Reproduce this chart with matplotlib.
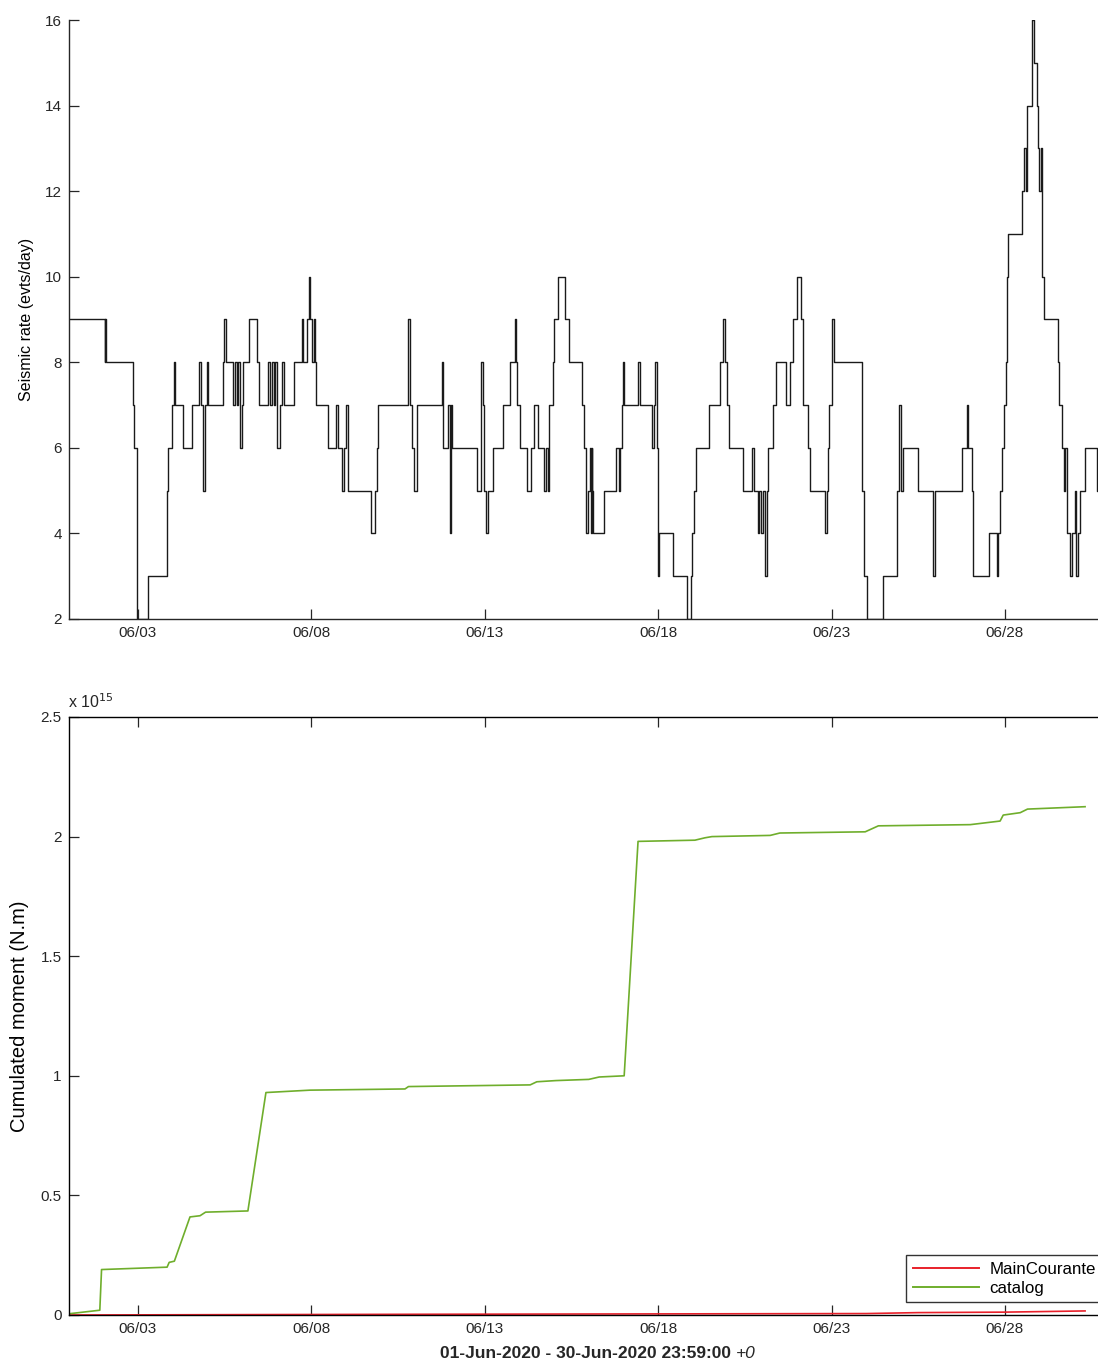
import matplotlib
matplotlib.use("Agg")
import matplotlib.pyplot as plt
import matplotlib.dates as mdates
from matplotlib.ticker import FuncFormatter
from datetime import datetime
import numpy as np

plt.rcParams['font.family'] = ['Liberation Sans', 'DejaVu Sans']

# ---------------- data ----------------
START = datetime(2020, 6, 1)
END = datetime(2020, 7, 1)
TICK_DAYS = [3, 8, 13, 18, 23, 28]

# Seismic rate step series: time (days since 01-Jun-2020) and rate (evts/day)
rate_t = [0.00, 1.05, 1.06, 1.08, 1.85, 1.89, 1.98, 2.28, 2.83, 2.87, 2.98, 3.04, 3.08, 3.31,
          3.57, 3.77, 3.83, 3.88, 3.92, 3.98, 4.03, 4.46, 4.49, 4.55, 4.75, 4.80, 4.85, 4.89,
          4.94, 5.00, 5.03, 5.20, 5.44, 5.49, 5.74, 5.80, 5.86, 5.91, 5.95, 6.00, 6.10, 6.14,
          6.22, 6.49, 6.72, 6.77, 6.87, 6.93, 6.97, 7.03, 7.07, 7.10, 7.14, 7.47, 7.71, 7.76,
          7.87, 7.95, 8.00, 8.05, 8.72, 8.83, 8.88, 8.93, 9.80, 9.84, 9.90, 9.97, 10.05, 10.78,
          10.81, 10.95, 10.99, 11.03, 11.06, 11.77, 11.88, 11.94, 11.99, 12.04, 12.08, 12.23,
          12.54, 12.73, 12.86, 12.90, 12.94, 13.02, 13.21, 13.33, 13.43, 13.54, 13.72, 13.77,
          13.81, 13.86, 13.98, 14.01, 14.12, 14.31, 14.43, 14.80, 14.86, 14.92, 14.99, 15.03,
          15.06, 15.08, 15.10, 15.13, 15.45, 15.78, 15.88, 15.91, 15.97, 15.99, 16.02, 16.43,
          16.47, 16.81, 16.89, 16.92, 16.96, 16.99, 17.02, 17.44, 17.82, 17.95, 17.99, 18.04,
          18.09, 18.47, 18.78, 18.88, 18.93, 18.99, 19.05, 19.46, 19.70, 19.77, 19.87, 19.91,
          19.96, 20.01, 20.08, 20.13, 20.18, 20.32, 20.40, 20.69, 20.80, 20.90, 21.01, 21.11,
          21.17, 21.33, 21.38, 21.81, 21.86, 21.90, 21.93, 22.00, 22.07, 22.87, 22.94, 23.01,
          23.49, 23.90, 23.94, 23.99, 24.07, 24.50, 24.92, 24.97, 25.03, 25.75, 25.90, 25.93,
          26.04, 26.09, 26.55, 26.77, 26.81, 26.86, 26.91, 26.96, 27.02, 27.05, 27.08, 27.50,
          27.56, 27.60, 27.64, 27.77, 27.79, 27.83, 27.92, 27.96, 27.99, 28.04, 28.08, 28.12,
          28.52, 28.56, 28.64, 28.70, 28.73, 28.79, 28.88, 28.93, 29.02, 29.05, 29.11, 29.16,
          29.31, 29.66, 30.00]
rate_v = [9, 8, 9, 8, 7, 6, 2, 3, 5, 6, 7, 8, 7, 6,
          7, 8, 7, 5, 7, 8, 7, 8, 9, 8, 7, 8, 7, 8,
          6, 7, 8, 9, 8, 7, 8, 7, 8, 7, 8, 6, 7, 8,
          7, 8, 9, 8, 9, 10, 9, 8, 9, 8, 7, 6, 7, 6,
          5, 6, 7, 5, 4, 5, 6, 7, 9, 7, 6, 5, 7, 8,
          6, 7, 4, 7, 6, 5, 8, 7, 5, 4, 5, 6,
          7, 8, 9, 8, 7, 6, 5, 6, 7, 6, 5, 6,
          5, 7, 8, 9, 10, 9, 8, 7, 6, 4, 5, 6,
          4, 6, 5, 4, 5, 6, 5, 6, 7, 8, 7, 8,
          7, 6, 7, 8, 6, 3, 4, 3, 2, 3, 4, 5,
          6, 7, 8, 9, 8, 7, 6, 5, 6, 5, 4, 5,
          4, 5, 3, 5, 6, 7, 8, 7, 8, 9, 10, 9,
          7, 6, 5, 4, 5, 6, 7, 9, 8, 5, 3, 2,
          3, 5, 7, 5, 6, 5, 3, 5, 5, 6, 7, 6,
          5, 3, 4, 3, 4, 5, 6, 7, 8, 10, 11, 12,
          13, 12, 14, 15, 16, 15, 14, 13, 12, 13, 10, 9,
          8, 7, 6, 5, 6, 4, 3, 4, 5, 3, 4, 5,
          6, 5, 5]

# Cumulated moment (x 1e15 N.m)
catalog_t = [0.00, 0.90, 0.95, 2.84, 2.90, 3.05, 3.50, 3.79, 3.95, 5.17, 5.69, 6.96, 9.70,
             9.80, 13.31, 13.50, 14.05, 15.00, 15.30, 16.02, 16.42, 18.06, 18.35, 18.55,
             20.23, 20.51, 22.97, 23.35, 26.00, 26.86, 26.95, 27.44, 27.65, 29.31]
catalog_v = [0.005, 0.02, 0.19, 0.20, 0.22, 0.225, 0.41, 0.415, 0.43, 0.435, 0.93, 0.94, 0.945,
             0.955, 0.962, 0.975, 0.98, 0.985, 0.995, 1.0, 1.98, 1.985, 1.995, 2.0,
             2.005, 2.015, 2.02, 2.045, 2.05, 2.065, 2.09, 2.10, 2.115, 2.125]
main_t = [0.00, 10.0, 23.0, 24.5, 27.0, 29.31]
main_v = [0.0, 0.003, 0.006, 0.010, 0.012, 0.017]

# ---------------- plotting ----------------
base = mdates.date2num(START)
def to_num(days):
    return base + np.asarray(days, dtype=float)

W, H = 1098, 1360
fig = plt.figure(figsize=(W / 100, H / 100), dpi=100)

x_left = 68.6
x_right = 1109.0
ax1 = fig.add_axes([x_left / W, 1 - 619 / H, (x_right - x_left) / W, (619 - 20) / H])
ax2 = fig.add_axes([x_left / W, 1 - 1315 / H, (x_right - x_left) / W, (1315 - 717) / H])

xticks = [mdates.date2num(datetime(2020, 6, d)) for d in TICK_DAYS]
xlim = (mdates.date2num(START), mdates.date2num(END))

# Top: seismic rate
ax1.step(to_num(rate_t), rate_v, where='post', color='#1a1a1a', lw=1.0)
ax1.set_xlim(*xlim)
ax1.set_ylim(2, 16)
ax1.set_yticks(range(2, 17, 2))
ax1.set_xticks(xticks)
ax1.xaxis.set_major_formatter(mdates.DateFormatter('%m/%d'))
ax1.spines['top'].set_visible(False)
ax1.spines['right'].set_visible(False)
for s in ['left', 'bottom']:
    ax1.spines[s].set_linewidth(1.0)
    ax1.spines[s].set_color('#262626')
ax1.tick_params(direction='in', length=7, width=0.9, labelsize=11, colors='#262626', pad=5)
ax1.set_ylabel('Seismic rate (evts/day)', fontsize=11.5, labelpad=8)

# Bottom: cumulated moment
ax2.plot(to_num(main_t), main_v, color='#e8202a', lw=1.2, label='MainCourante')
ax2.plot(to_num(catalog_t), catalog_v, color='#6fae2c', lw=1.2, label='catalog')
ax2.set_xlim(*xlim)
ax2.set_ylim(0, 2.5)
ax2.set_yticks([0, 0.5, 1, 1.5, 2, 2.5])
ax2.yaxis.set_major_formatter(FuncFormatter(lambda v, p: '%g' % v))
ax2.set_xticks(xticks)
ax2.xaxis.set_major_formatter(mdates.DateFormatter('%m/%d'))
for s in ax2.spines.values():
    s.set_linewidth(1.0)
    s.set_color('black')
ax2.tick_params(direction='in', length=7, width=0.9, labelsize=11, top=True, right=True,
                colors='#262626', pad=5)
ax2.set_ylabel('Cumulated moment (N.m)', fontsize=14.5, labelpad=8)

leg = ax2.legend(loc='lower right', bbox_to_anchor=(1.006, 0.0), borderaxespad=0.75,
                 fontsize=12.2, handlelength=3.9, frameon=True, fancybox=False,
                 borderpad=0.4, labelspacing=0.2, handletextpad=0.6)
leg.get_frame().set_edgecolor('black')
leg.get_frame().set_linewidth(1.0)
for line in leg.get_lines():
    line.set_linewidth(1.4)

fig.text(68 / W, 1 - 708 / H, r'x 10$^{15}$', fontsize=11.5, ha='left', va='baseline',
         color='#262626')

fig.text(731 / W, 1 - 1353 / H, '01-Jun-2020 - 30-Jun-2020 23:59:00', fontsize=12.5,
         fontweight='bold', ha='right', va='center', color='#262626')
fig.text(736 / W, 1 - 1353 / H, '+0', fontsize=12.5, style='italic', ha='left', va='center',
         color='#262626')

fig.savefig('out.png', dpi=100)
